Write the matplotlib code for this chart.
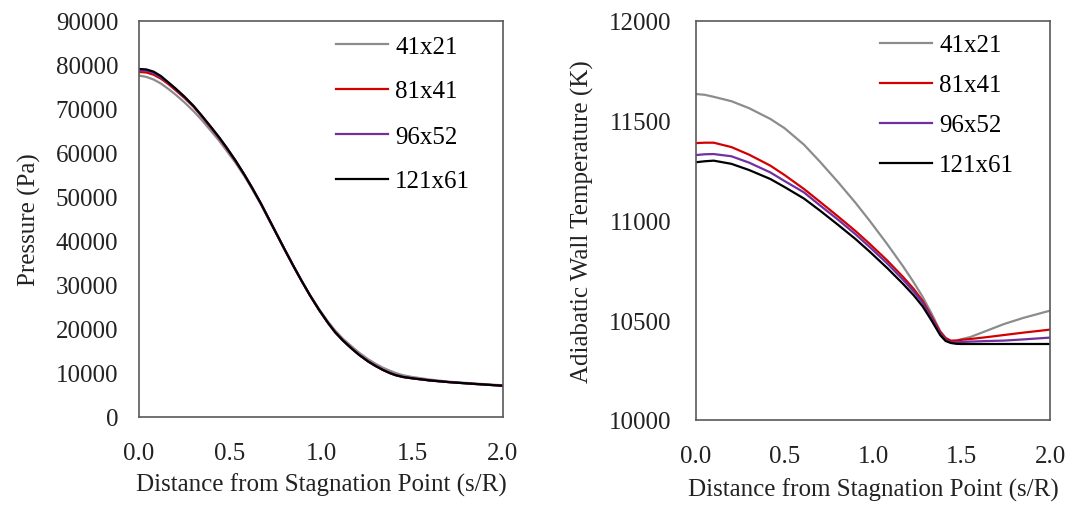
import matplotlib
matplotlib.use("Agg")
import matplotlib.pyplot as plt
import numpy as np

# grid names and colours
grids = ["41x21", "81x41", "96x52", "121x61"]
colors = ["#8c8c8c", "#d40000", "#7030a0", "#000000"]

# pressure along the wall (Pa)
s_p = [0, 0.04, 0.08, 0.12, 0.16, 0.2, 0.25, 0.3, 0.345, 0.4, 0.44, 0.48, 0.53, 0.58,
       0.62, 0.67, 0.71, 0.76, 0.8, 0.85, 0.894, 0.94, 0.99, 1.04, 1.077, 1.12, 1.17,
       1.21, 1.26, 1.3, 1.34, 1.38, 1.41, 1.45, 1.5, 1.6, 1.71, 1.85, 2.0]
p_41 = [77600, 77300, 76700, 75800, 74600, 73300, 71500, 69500, 67500, 64800, 62800,
        60600, 57800, 54700, 51900, 48300, 45100, 41200, 38000, 34200, 30900, 27700,
        24500, 21600, 19700, 17800, 16000, 14600, 13100, 12100, 11200, 10500, 10000,
        9500, 9100, 8500, 8000, 7600, 7200]
p_81 = [78400, 78300, 77800, 76900, 75700, 74300, 72500, 70500, 68300, 65500, 63400,
        61200, 58200, 55000, 52200, 48500, 45300, 41300, 38100, 34200, 30900, 27600,
        24300, 21300, 19300, 17400, 15500, 14100, 12600, 11600, 10700, 10000, 9550,
        9100, 8800, 8300, 7900, 7500, 7100]
p_96 = [78800, 78700, 78200, 77200, 76000, 74600, 72700, 70600, 68400, 65600, 63500,
        61300, 58300, 55000, 52200, 48500, 45300, 41300, 38100, 34200, 30900, 27600,
        24300, 21300, 19300, 17400, 15500, 14100, 12600, 11600, 10700, 9950, 9500,
        9100, 8800, 8300, 7900, 7500, 7100]
p_121 = [79100, 79000, 78500, 77500, 76100, 74700, 72800, 70700, 68500, 65700, 63600,
         61300, 58300, 55000, 52200, 48500, 45300, 41300, 38100, 34200, 30900, 27600,
         24300, 21300, 19300, 17400, 15500, 14100, 12600, 11600, 10700, 9950, 9500,
         9100, 8800, 8300, 7900, 7500, 7100]

# adiabatic wall temperature (K)
s_t = [0, 0.05, 0.1, 0.2, 0.3, 0.42, 0.5, 0.61, 0.7, 0.8, 0.9, 0.98, 1.08, 1.17, 1.23,
       1.28, 1.33, 1.38, 1.41, 1.44, 1.47, 1.5, 1.55, 1.65, 1.74, 1.85, 2.0]
t_41 = [11634, 11630, 11620, 11598, 11563, 11509, 11463, 11380, 11295, 11195, 11090,
        11000, 10882, 10770, 10690, 10618, 10535, 10445, 10412, 10397, 10398, 10405,
        10416, 10450, 10481, 10512, 10548]
t_81 = [11388, 11390, 11390, 11368, 11330, 11275, 11228, 11158, 11094, 11022, 10948,
        10884, 10800, 10717, 10657, 10598, 10520, 10442, 10410, 10397, 10398, 10402,
        10406, 10416, 10426, 10438, 10453]
t_96 = [11328, 11332, 11333, 11322, 11290, 11241, 11198, 11141, 11076, 11006, 10932,
        10868, 10785, 10703, 10644, 10588, 10512, 10433, 10402, 10389, 10389, 10391,
        10393, 10396, 10398, 10404, 10413]
t_121 = [11292, 11297, 11300, 11284, 11253, 11208, 11168, 11110, 11050, 10980, 10908,
         10845, 10762, 10682, 10625, 10570, 10500, 10425, 10396, 10386, 10382, 10381,
         10381, 10381, 10381, 10381, 10381]

plt.rcParams["font.family"] = ["Liberation Serif", "DejaVu Serif"]
fs = 18
txt = "#222222"

fig = plt.figure(figsize=(10.78, 5.06), dpi=100)
ax1 = fig.add_axes([139/1078, 1-418/506, 364/1078, 396/506])
ax2 = fig.add_axes([696/1078, 1-421/506, 354/1078, 399/506])

for ys, c, g in zip([p_41, p_81, p_96, p_121], colors, grids):
    ax1.plot(s_p, ys, color=c, lw=1.6, label=g)
for ys, c, g in zip([t_41, t_81, t_96, t_121], colors, grids):
    ax2.plot(s_t, ys, color=c, lw=1.6, label=g)

ax1.set_ylim(0, 90000)
ax1.set_yticks(np.arange(0, 90001, 10000))
ax2.set_ylim(10000, 12000)
ax2.set_yticks(np.arange(10000, 12001, 500))

for ax in (ax1, ax2):
    ax.set_xlim(0, 2)
    ax.set_xticks([0, 0.5, 1.0, 1.5, 2.0])
    ax.set_xticklabels(["0.0", "0.5", "1.0", "1.5", "2.0"])
    ax.tick_params(length=0, labelsize=fs, colors=txt)
    for sp in ax.spines.values():
        sp.set_color("#595959")
        sp.set_linewidth(1.2)

ax1.tick_params(axis="y", pad=15)
ax1.tick_params(axis="x", pad=18)
ax2.tick_params(axis="y", pad=18)
ax2.tick_params(axis="x", pad=18)

ax1.set_ylabel("Pressure (Pa)", fontsize=fs, color=txt)
ax2.set_ylabel("Adiabatic Wall Temperature (K)", fontsize=fs, color=txt)
ax1.set_xlabel("Distance from Stagnation Point (s/R)", fontsize=fs, color=txt)
ax2.set_xlabel("Distance from Stagnation Point (s/R)", fontsize=fs, color=txt)
ax1.yaxis.set_label_coords(-0.27, 0.5)
ax2.yaxis.set_label_coords(-0.288, 0.5)
ax1.xaxis.set_label_coords(0.5, -0.14)
ax2.xaxis.set_label_coords(0.5, -0.145)

ax1.legend(loc="upper left", bbox_to_anchor=(336/1078, 1-36/506), bbox_transform=fig.transFigure,
           frameon=False, fontsize=fs, borderpad=0, borderaxespad=0, handlelength=2.08,
           handletextpad=0.28, labelspacing=0.9)
ax2.legend(loc="upper left", bbox_to_anchor=(880/1078, 1-35/506), bbox_transform=fig.transFigure,
           frameon=False, fontsize=fs, borderpad=0, borderaxespad=0, handlelength=2.08,
           handletextpad=0.28, labelspacing=0.7)

fig.savefig("out.png", dpi=100)
